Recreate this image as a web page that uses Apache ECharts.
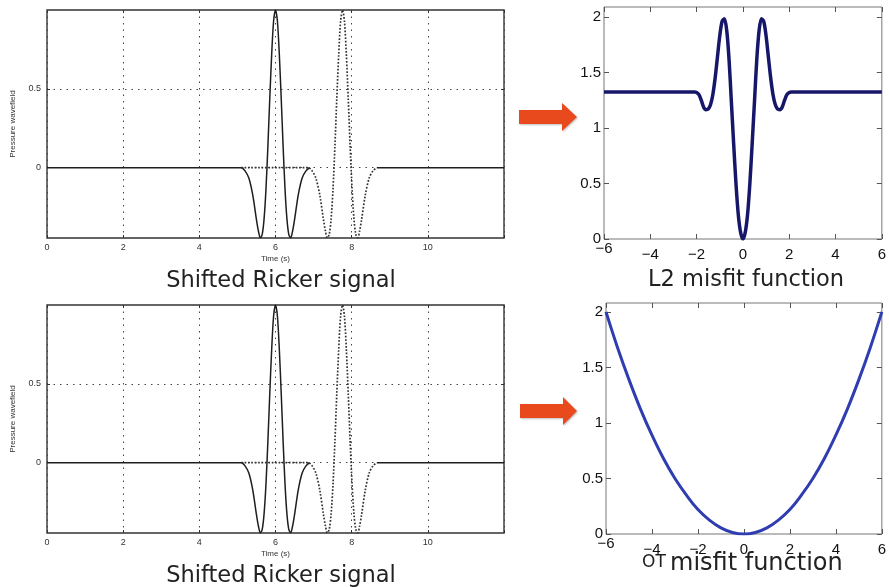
<!DOCTYPE html>
<html>
<head>
<meta charset="utf-8">
<script src="https://cdn.jsdelivr.net/npm/echarts@6/dist/echarts.min.js"></script>
<style>
  html, body { margin: 0; padding: 0; background: #fff; }
  #chart { width: 889px; height: 587px; }
</style>
</head>
<body>
<div id="chart"></div>
<script>
// Ricker pulse: offset from pulse centre (s) -> amplitude
const pulseOffsets = [-0.9, -0.8, -0.7, -0.6, -0.5, -0.45, -0.4, -0.35, -0.3, -0.25, -0.2, -0.15, -0.1, -0.05,
  0, 0.05, 0.1, 0.15, 0.2, 0.25, 0.3, 0.35, 0.4, 0.45, 0.5, 0.6, 0.7, 0.8, 0.9];
const pulseValues = [0, -0.02, -0.066, -0.17, -0.33, -0.40, -0.445, -0.425, -0.325, -0.135, 0.135, 0.44, 0.72, 0.93,
  1, 0.93, 0.72, 0.44, 0.135, -0.135, -0.325, -0.425, -0.445, -0.40, -0.33, -0.17, -0.066, -0.02, 0];
const solidCentre = 6;      // reference pulse
const dottedCentre = 7.76;  // shifted pulse
const traceStart = 0;
const dottedStart = 5.1;
const solidResume = 8.66;
const traceEnd = 12;

// L2 misfit vs shift (top right)
const l2Shift = [-6, -2.1, -2.0, -1.9, -1.8, -1.7, -1.6, -1.5, -1.4, -1.3, -1.2, -1.1, -1.0, -0.9, -0.8, -0.7,
  -0.6, -0.5, -0.4, -0.3, -0.2, -0.1, 0, 0.1, 0.2, 0.3, 0.4, 0.5, 0.6, 0.7, 0.8, 0.9, 1.0, 1.1, 1.2, 1.3,
  1.4, 1.5, 1.6, 1.7, 1.8, 1.9, 2.0, 2.1, 6];
const l2Values = [1.324, 1.324, 1.32, 1.30, 1.25, 1.19, 1.165, 1.17, 1.21, 1.30, 1.45, 1.64, 1.83, 1.96, 1.985, 1.88,
  1.62, 1.24, 0.86, 0.50, 0.22, 0.06, 0, 0.06, 0.22, 0.50, 0.86, 1.24, 1.62, 1.88, 1.985, 1.96, 1.83, 1.64, 1.45, 1.30,
  1.21, 1.17, 1.165, 1.19, 1.25, 1.30, 1.32, 1.324, 1.324];

// OT misfit vs shift (bottom right)
const otShift = [-6, -5.5, -5, -4.5, -4, -3.5, -3, -2.5, -2, -1.5, -1, -0.5, 0, 0.5, 1, 1.5, 2, 2.5, 3, 3.5, 4, 4.5, 5, 5.5, 6];
const otValues = [2.0, 1.68, 1.39, 1.125, 0.89, 0.68, 0.5, 0.35, 0.22, 0.125, 0.055, 0.014, 0,
  0.014, 0.055, 0.125, 0.22, 0.35, 0.5, 0.68, 0.89, 1.125, 1.39, 1.68, 2.0];

const signalTicksY = [0, 0.5];
const misfitTicksY = [0, 0.5, 1, 1.5, 2];

const SANS = 'Liberation Sans, Arial, sans-serif';
const TITLE_FONT = 'DejaVu Sans, sans-serif';

function pulseAt(centre) {
  return pulseOffsets.map((t, i) => [centre + t, pulseValues[i]]);
}

function pairs(xs, ys) {
  return xs.map((x, i) => [x, ys[i]]);
}

const noLine = { show: false, onZero: false };

function signalAxes(g) {
  const dots = { type: [1.5, 5], color: '#444', width: 1 };
  const tick = { inside: true, length: 3, lineStyle: { color: '#333' } };
  const x = [{
    type: 'value', gridIndex: g, min: 0, max: 12, interval: 2,
    axisLine: noLine, axisTick: tick,
    axisLabel: { fontSize: 9, color: '#333', fontFamily: SANS, margin: 5,
      formatter: v => (v === 12 ? '' : String(v)) },
    splitLine: { show: true, lineStyle: dots },
    name: 'Time (s)', nameLocation: 'middle', nameGap: 17,
    nameTextStyle: { fontSize: 8, color: '#333', fontFamily: SANS },
  }, {
    type: 'value', gridIndex: g, min: 0, max: 12, interval: 2, position: 'top',
    axisLine: noLine, axisTick: tick, axisLabel: { show: false }, splitLine: { show: false },
  }];
  const y = [{
    type: 'value', gridIndex: g, min: -0.446, max: 1,
    axisLine: noLine,
    axisTick: Object.assign({ customValues: signalTicksY }, tick),
    axisLabel: { customValues: signalTicksY, fontSize: 9, color: '#333', fontFamily: SANS, margin: 6 },
    splitLine: { show: true, lineStyle: dots },
    name: 'Pressure wavefield', nameLocation: 'middle', nameGap: 30,
    nameTextStyle: { fontSize: 8, color: '#333', fontFamily: SANS },
  }, {
    type: 'value', gridIndex: g, min: -0.446, max: 1, position: 'right',
    axisLine: noLine, axisTick: Object.assign({ customValues: signalTicksY }, tick),
    axisLabel: { show: false }, splitLine: { show: false },
  }];
  return { x, y };
}

function misfitAxes(g, ymax) {
  const tick = { inside: true, length: 5, lineStyle: { color: '#555' } };
  const lab = { fontSize: 15, color: '#111', fontFamily: SANS };
  const x = [{
    type: 'value', gridIndex: g, min: -6, max: 6, interval: 2,
    axisLine: noLine, axisTick: tick, splitLine: { show: false },
    axisLabel: {
      margin: 2,
      formatter: v => {
        const s = v < 0 ? '\u2212' + (-v) : String(v);
        return v === -6 ? '{lo|' + s + '}' : '{hi|' + s + '}';
      },
      rich: {
        lo: Object.assign({}, lab),
        hi: Object.assign({ padding: [6, 0, 0, 0] }, lab),
      },
    },
  }, {
    type: 'value', gridIndex: g, min: -6, max: 6, interval: 2, position: 'top',
    axisLine: noLine, axisTick: tick, axisLabel: { show: false }, splitLine: { show: false },
  }];
  const y = [{
    type: 'value', gridIndex: g, min: 0, max: ymax,
    axisLine: noLine,
    axisTick: Object.assign({ customValues: misfitTicksY }, tick),
    axisLabel: Object.assign({ customValues: misfitTicksY, margin: 3 }, lab),
    splitLine: { show: false },
  }, {
    type: 'value', gridIndex: g, min: 0, max: ymax, position: 'right',
    axisLine: noLine, axisTick: Object.assign({ customValues: misfitTicksY }, tick),
    axisLabel: { show: false }, splitLine: { show: false },
  }];
  return { x, y };
}

const grids = [
  { left: 47, top: 10, width: 457, height: 228, show: true, borderColor: '#333', borderWidth: 1.4 },
  { left: 604, top: 7, width: 279, height: 232, show: true, borderColor: '#777', borderWidth: 1 },
  { left: 47, top: 305, width: 457, height: 228, show: true, borderColor: '#333', borderWidth: 1.4 },
  { left: 606, top: 303, width: 277, height: 231, show: true, borderColor: '#777', borderWidth: 1 },
];

const axesSets = [signalAxes(0), misfitAxes(1, 2.09), signalAxes(2), misfitAxes(3, 2.08)];
const xAxis = [];
const yAxis = [];
axesSets.forEach(a => { xAxis.push(...a.x); yAxis.push(...a.y); });
// main axes of grid g sit at index 2*g

function signalSeries(g) {
  const ax = { xAxisIndex: 2 * g, yAxisIndex: 2 * g, type: 'line', showSymbol: false, silent: true,
    smooth: 0.3, animation: false };
  const solid = { color: '#1e1e1e', width: 1.5 };
  return [
    Object.assign({}, ax, { data: [[traceStart, 0]].concat(pulseAt(solidCentre)), lineStyle: solid, z: 3 }),
    Object.assign({}, ax, { data: [[solidResume, 0], [traceEnd, 0]], lineStyle: solid, z: 3 }),
    Object.assign({}, ax, { data: [[dottedStart, 0]].concat(pulseAt(dottedCentre)),
      lineStyle: { color: '#333', width: 1.7, type: [1.7, 1.7] }, z: 4 }),
  ];
}

const series = [
  ...signalSeries(0),
  { type: 'line', xAxisIndex: 2, yAxisIndex: 2, data: pairs(l2Shift, l2Values), showSymbol: false,
    smooth: 0.3, lineStyle: { color: '#17176a', width: 3.5 }, animation: false },
  ...signalSeries(2),
  { type: 'line', xAxisIndex: 6, yAxisIndex: 6, data: pairs(otShift, otValues), showSymbol: false,
    smooth: 0.4, lineStyle: { color: '#2f3db0', width: 3 }, animation: false },
];

function arrow(x0, xHead, xTip, bodyTop, bodyBot, headTop, headBot) {
  const mid = (headTop + headBot) / 2;
  return {
    type: 'polygon', silent: true,
    shape: { points: [[x0, bodyTop], [xHead, bodyTop], [xHead, headTop], [xTip, mid],
      [xHead, headBot], [xHead, bodyBot], [x0, bodyBot]] },
    style: { fill: '#e8491d', shadowBlur: 2, shadowColor: 'rgba(0,0,0,0.25)', shadowOffsetX: 1, shadowOffsetY: 1 },
  };
}

function caption(x, y, text, size, align) {
  return {
    type: 'text', x, y, silent: true,
    style: { text, fill: '#222', font: size + 'px ' + TITLE_FONT,
      textAlign: align || 'center', textVerticalAlign: 'middle' },
  };
}

const graphic = [
  arrow(519, 562, 577, 110, 124, 103, 131),
  arrow(520, 563, 577, 404, 418, 397, 425),
  caption(281, 281, 'Shifted Ricker signal', 22.5),
  caption(746, 280, 'L2 misfit function', 22.5),
  caption(281, 576, 'Shifted Ricker signal', 22.5),
  caption(642, 563, 'OT', 17, 'left'),
  caption(670, 564, 'misfit function', 24, 'left'),
];

const chart = echarts.init(document.getElementById('chart'));
chart.setOption({
  animation: false,
  backgroundColor: '#fff',
  grid: grids,
  xAxis,
  yAxis,
  series,
  graphic,
});
</script>
</body>
</html>
